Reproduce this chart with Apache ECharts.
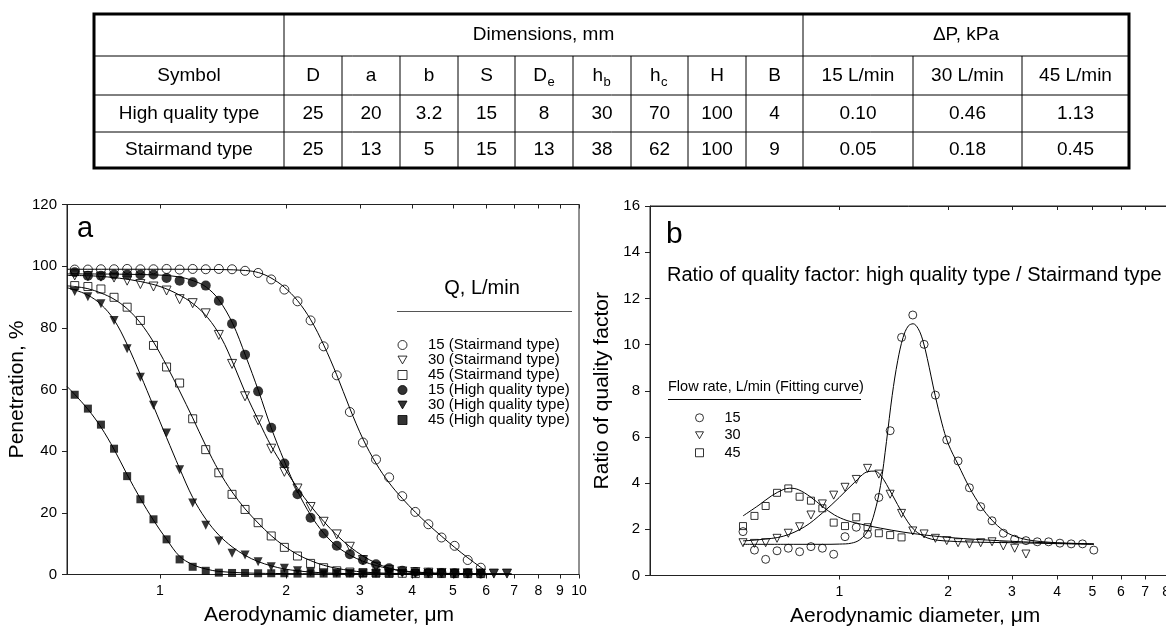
<!DOCTYPE html>
<html><head><meta charset="utf-8">
<script src="https://cdn.jsdelivr.net/npm/echarts@6/dist/echarts.min.js"></script>
<style>html,body{margin:0;padding:0;background:#fff}#c{width:1166px;height:628px}</style>
</head><body><div id="c"></div>
<script>
// ---------------- table text ----------------
const tableGroupHeader = ['Dimensions, mm', 'ΔP, kPa'];
const tableSymbols = ['Symbol','D','a','b','S','D|e','h|b','h|c','H','B','15 L/min','30 L/min','45 L/min'];
const rowHighQuality = ['High quality type','25','20','3.2','15','8','30','70','100','4','0.10','0.46','1.13'];
const rowStairmand = ['Stairmand type','25','13','5','15','13','38','62','100','9','0.05','0.18','0.45'];

// ---------------- chart a: penetration ----------------
const channelsA = [0.626,0.673,0.723,0.777,0.835,0.898,0.965,1.037,1.114,1.197,1.286,1.382,1.486,1.596,1.715,1.843,1.981,2.129,2.288,2.458,2.642,2.839,3.051,3.278,3.523,3.786,4.068,4.371,4.698,5.048,5.425,5.829,6.264,6.732];
const ptsA15S  = [98.9,98.9,99.0,99.0,99.1,99.0,99.0,99.1,98.9,99.1,99.0,99.1,99.0,98.5,97.8,95.7,92.4,88.6,82.4,74.0,64.6,52.7,42.8,37.3,31.5,25.4,20.3,16.3,12.0,9.3,4.7,2.2];
const ptsA30S  = [97.0,96.8,96.6,96.3,95.3,94.2,93.4,92.1,89.3,88.0,84.7,77.7,68.3,57.8,50.0,40.8,33.3,27.9,21.9,17.1,13.0,9.0,4.7,2.5,1.5,1.0,0.8,0.6,0.5,0.4,0.4,0.3,0.3,0.3];
const ptsA45S  = [93.7,93.4,92.6,89.9,86.7,82.4,74.3,67.3,62.1,50.5,40.5,33.0,26.0,21.1,16.8,12.5,8.8,6.0,3.6,2.2,1.2,0.8,0.6,0.5,0.4,0.4,0.3,0.3,0.3,0.3,0.3,0.3];
const ptsA15HQ = [98.0,96.9,96.9,97.3,97.3,97.3,97.3,96.2,95.3,94.8,93.7,88.8,81.3,71.3,59.4,47.6,36.0,26.0,18.4,13.3,9.3,6.6,4.7,3.3,2.0,1.2,0.8,0.6,0.5,0.4,0.4,0.3];
const ptsA30HQ = [91.8,90.1,87.8,82.4,73.2,64.0,54.9,45.9,34.0,23.2,16.0,10.9,6.9,6.3,4.1,2.5,2.0,1.2,0.8,0.6,0.5,0.4,0.4,0.3,0.3,0.3,0.3,0.3,0.3,0.3,0.3,0.3,0.3,0.3];
const ptsA45HQ = [58.3,53.8,48.6,40.8,31.9,24.4,17.9,11.4,4.9,2.5,1.2,0.6,0.5,0.5,0.4,0.4,0.4,0.3,0.3,0.3,0.3,0.3,0.3,0.3,0.3];

const fitA15S  = [[0.6,99.0],[1.0,99.0],[1.4,98.9],[1.6,98.6],[1.72,97.9],[1.84,96.2],[1.98,93.2],[2.13,88.8],[2.29,82.6],[2.46,74.4],[2.64,64.8],[2.84,53.8],[3.05,44.0],[3.28,36.0],[3.52,29.8],[3.79,24.6],[4.07,20.2],[4.37,16.2],[4.70,12.4],[5.05,8.8],[5.43,5.4],[5.83,2.3],[5.95,1.4]];
const fitA30S  = [[0.6,97.0],[0.7,96.8],[0.8,96.1],[0.9,95.0],[1.0,93.4],[1.1,91.0],[1.2,87.8],[1.3,83.3],[1.4,76.8],[1.5,68.0],[1.6,58.8],[1.72,49.8],[1.84,41.8],[1.98,34.6],[2.13,28.0],[2.29,22.2],[2.46,17.2],[2.64,12.8],[2.84,9.0],[3.05,6.0],[3.28,3.7],[3.52,2.1],[3.79,1.1],[4.07,0.6],[4.7,0.2],[6.9,0.1]];
const fitA45S  = [[0.6,93.6],[0.626,93.4],[0.673,92.7],[0.723,91.3],[0.777,89.3],[0.835,86.2],[0.898,81.6],[0.965,75.4],[1.037,67.8],[1.114,59.5],[1.197,50.8],[1.286,41.8],[1.382,33.6],[1.486,26.8],[1.596,21.3],[1.715,16.7],[1.843,12.6],[1.981,9.2],[2.129,6.5],[2.288,4.5],[2.458,3.0],[2.642,2.0],[2.839,1.3],[3.05,0.8],[3.5,0.4],[4.5,0.2],[6.9,0.1]];
const fitA15HQ = [[0.6,97.5],[0.8,97.4],[1.0,97.1],[1.1,96.6],[1.2,95.3],[1.29,93.2],[1.38,89.2],[1.49,81.5],[1.6,71.0],[1.72,59.4],[1.84,47.8],[1.98,36.8],[2.13,27.0],[2.29,19.2],[2.46,13.4],[2.64,9.2],[2.84,6.3],[3.05,4.3],[3.28,2.9],[3.52,1.9],[3.79,1.2],[4.07,0.8],[4.7,0.4],[6.9,0.1]];
const fitA30HQ = [[0.6,93.0],[0.626,92.3],[0.673,90.6],[0.723,87.6],[0.777,82.6],[0.835,74.6],[0.898,64.8],[0.965,54.6],[1.037,44.4],[1.114,34.4],[1.197,25.0],[1.286,18.0],[1.382,12.8],[1.486,9.0],[1.596,6.2],[1.715,4.2],[1.843,2.8],[1.981,1.8],[2.129,1.2],[2.288,0.8],[2.6,0.4],[3.5,0.2],[6.9,0.1]];
const fitA45HQ = [[0.6,61.0],[0.626,58.4],[0.673,53.6],[0.723,47.8],[0.777,40.6],[0.835,32.4],[0.898,24.6],[0.965,17.6],[1.037,11.4],[1.114,5.9],[1.197,3.2],[1.286,1.8],[1.382,1.0],[1.6,0.5],[2.0,0.3],[4.0,0.1],[6.9,0.1]];

const namesA = ['15 (Stairmand type)','30 (Stairmand type)','45 (Stairmand type)','15 (High quality type)','30 (High quality type)','45 (High quality type)'];
const ticksA = [1,2,3,4,5,6,7,8,9,10];

// ---------------- chart b: ratio of quality factor ----------------
const channelsB = [0.542,0.583,0.626,0.673,0.723,0.777,0.835,0.898,0.965,1.037,1.114,1.197,1.286,1.382,1.486,1.596,1.715,1.843,1.981,2.129,2.288,2.458,2.642,2.839,3.051,3.278,3.523,3.786,4.068,4.371,4.698,5.048];
const ptsB15 = [1.90,1.10,0.70,1.07,1.18,1.03,1.25,1.18,0.92,1.68,2.09,1.78,3.38,6.27,10.31,11.28,10.01,7.81,5.87,4.96,3.80,2.98,2.37,1.83,1.57,1.51,1.46,1.46,1.40,1.37,1.37,1.10];
const ptsB30 = [1.42,1.39,1.42,1.61,1.83,2.11,2.62,3.10,3.48,3.82,4.16,4.64,4.39,3.52,2.69,1.93,1.80,1.61,1.51,1.42,1.36,1.42,1.46,1.28,1.18,0.93];
const ptsB45 = [2.14,2.58,3.01,3.58,3.77,3.41,3.24,2.91,2.29,2.14,2.52,2.09,1.83,1.75,1.65];

const fitB15 = [[0.542,1.35],[0.7,1.35],[0.9,1.35],[1.0,1.36],[1.08,1.40],[1.14,1.55],[1.2,1.95],[1.25,2.7],[1.3,3.9],[1.35,5.8],[1.4,7.8],[1.45,9.3],[1.5,10.3],[1.55,10.8],[1.6,10.9],[1.65,10.7],[1.7,10.2],[1.75,9.4],[1.84,7.8],[1.92,6.6],[2.0,5.7],[2.13,4.8],[2.29,3.8],[2.46,3.0],[2.64,2.4],[2.84,1.95],[3.05,1.7],[3.3,1.55],[3.6,1.47],[4.0,1.42],[4.5,1.39],[5.05,1.37]];
const fitB30 = [[0.542,1.50],[0.6,1.55],[0.7,1.70],[0.8,2.10],[0.9,2.72],[1.0,3.38],[1.1,4.02],[1.2,4.50],[1.25,4.52],[1.3,4.35],[1.4,3.50],[1.5,2.65],[1.6,2.02],[1.7,1.72],[1.8,1.57],[1.95,1.50],[2.3,1.45],[3.0,1.42],[4.0,1.38],[5.05,1.35]];
const fitB45 = [[0.542,2.58],[0.6,3.05],[0.65,3.45],[0.7,3.72],[0.73,3.78],[0.77,3.72],[0.83,3.42],[0.9,2.98],[0.97,2.62],[1.05,2.38],[1.15,2.22],[1.3,2.05],[1.5,1.88],[1.8,1.72],[2.2,1.60],[3.0,1.48],[4.0,1.40],[5.05,1.36]];

const namesB = ['15','30','45'];
const ticksB = [1,2,3,4,5,6,7,8,9,10];

// ---------------- build ----------------
const FONT = 'Liberation Sans, Arial, Helvetica, sans-serif';
const lg = Math.log10;
const toPts = (ch, vals) => vals.map((v, i) => [lg(ch[i]), v]);
const toFit = pairs => pairs.map(p => [lg(p[0]), p[1]]);
const DOWN_TRI = 'path://M0,0L10,0L5,8.66Z';

const openStyle = {color: 'rgba(0,0,0,0)', borderColor: '#000', borderWidth: 1};
const fillStyle = {color: '#000', borderColor: '#000', borderWidth: 0};

function scatter(name, xi, yi, symbol, rot, style, size, data) {
  return {type: 'scatter', name, xAxisIndex: xi, yAxisIndex: yi, symbol, symbolRotate: rot,
    symbolSize: size, itemStyle: style, data, z: 3, silent: true, animation: false};
}
function fitLine(xi, yi, data) {
  return {type: 'line', xAxisIndex: xi, yAxisIndex: yi, data, showSymbol: false, symbol: 'none',
    smooth: 0.35, lineStyle: {color: '#000', width: 1}, z: 2, silent: true, animation: false};
}

const series = [
  fitLine(0,0,toFit(fitA15S)), fitLine(0,0,toFit(fitA30S)), fitLine(0,0,toFit(fitA45S)),
  fitLine(0,0,toFit(fitA15HQ)), fitLine(0,0,toFit(fitA30HQ)), fitLine(0,0,toFit(fitA45HQ)),
  scatter(namesA[0],0,0,'circle',0,openStyle,9,toPts(channelsA,ptsA15S)),
  scatter(namesA[1],0,0,'triangle',180,openStyle,9,toPts(channelsA,ptsA30S)),
  scatter(namesA[2],0,0,'rect',0,openStyle,8,toPts(channelsA,ptsA45S)),
  scatter(namesA[3],0,0,'circle',0,fillStyle,10,toPts(channelsA,ptsA15HQ)),
  scatter(namesA[4],0,0,'triangle',180,fillStyle,9,toPts(channelsA,ptsA30HQ)),
  scatter(namesA[5],0,0,'rect',0,fillStyle,8,toPts(channelsA,ptsA45HQ)),
  fitLine(2,1,toFit(fitB15)), fitLine(2,1,toFit(fitB30)), fitLine(2,1,toFit(fitB45)),
  scatter(namesB[0],2,1,'circle',0,openStyle,8,toPts(channelsB,ptsB15)),
  scatter(namesB[1],2,1,'triangle',180,openStyle,8,toPts(channelsB,ptsB30)),
  scatter(namesB[2],2,1,'rect',0,openStyle,7,toPts(channelsB,ptsB45))
];

const AX = '#222';
function bottomX(gi, min, ticks, name, pad) {
  const tv = ticks.map(lg);
  return {type: 'value', gridIndex: gi, position: 'bottom', min: lg(min), max: 1,
    axisLine: {show: true, onZero: false, lineStyle: {color: AX, width: 1}},
    axisTick: {show: true, inside: false, length: 4, customValues: tv, lineStyle: {color: AX}},
    axisLabel: {show: true, customValues: tv, margin: 10, fontSize: 14, color: '#000', fontFamily: FONT,
      hideOverlap: false, formatter: v => String(Math.round(Math.pow(10, v)))},
    splitLine: {show: false},
    name, nameLocation: 'middle', nameGap: 30,
    nameTextStyle: {fontSize: 21, color: '#000', fontFamily: FONT, padding: pad}};
}
function topX(gi, min, ticks) {
  const tv = ticks.map(lg);
  return {type: 'value', gridIndex: gi, position: 'top', min: lg(min), max: 1,
    axisLine: {show: true, onZero: false, lineStyle: {color: AX, width: 1}},
    axisTick: {show: true, inside: true, length: 4, customValues: tv, lineStyle: {color: AX}},
    axisLabel: {show: false}, splitLine: {show: false}};
}
function leftY(gi, max, interval, name, gap) {
  return {type: 'value', gridIndex: gi, min: 0, max, interval,
    axisLine: {show: true, onZero: false, lineStyle: {color: AX, width: 1}},
    axisTick: {show: true, inside: false, length: 5, lineStyle: {color: AX}},
    axisLabel: {show: true, margin: 10, fontSize: 15, color: '#000', fontFamily: FONT},
    splitLine: {show: false},
    name, nameLocation: 'middle', nameGap: gap,
    nameTextStyle: {fontSize: 21, color: '#000', fontFamily: FONT}};
}

// table graphics (layout only)
const colX = [94,284,342,400,458,515,573,631,688,746,803,913,1022,1129];
const rowY = [14,56,95,132,168];
const TF = 19;
const graphics = [];
graphics.push({type: 'rect', shape: {x: colX[0], y: rowY[0], width: colX[13]-colX[0], height: rowY[4]-rowY[0]},
  style: {fill: 'none', stroke: '#000', lineWidth: 3}, silent: true});
for (let r = 1; r <= 3; r++) graphics.push({type: 'line', shape: {x1: colX[0], y1: rowY[r], x2: colX[13], y2: rowY[r]}, style: {stroke: '#000', lineWidth: 1}, silent: true});
for (let c = 1; c <= 12; c++) {
  const full = (c === 1 || c === 10);
  graphics.push({type: 'line', shape: {x1: colX[c], y1: full ? rowY[0] : rowY[1], x2: colX[c], y2: rowY[4]}, style: {stroke: '#000', lineWidth: 1}, silent: true});
}
function cellText(txt, cx, cy) {
  if (txt.indexOf('|') >= 0) {
    const parts = txt.split('|');
    const off = parts[0] === 'D' ? 3 : 1;
    graphics.push({type: 'text', style: {text: parts[0], x: cx + off, y: cy, align: 'right', verticalAlign: 'middle', fontSize: TF, fontFamily: FONT, fill: '#000'}, silent: true});
    graphics.push({type: 'text', style: {text: parts[1], x: cx + off + 0.5, y: cy + 7, align: 'left', verticalAlign: 'middle', fontSize: 13, fontFamily: FONT, fill: '#000'}, silent: true});
  } else {
    graphics.push({type: 'text', style: {text: txt, x: cx, y: cy, align: 'center', verticalAlign: 'middle', fontSize: TF, fontFamily: FONT, fill: '#000'}, silent: true});
  }
}
const mid = (a, b) => (a + b) / 2;
cellText(tableGroupHeader[0], mid(colX[1], colX[10]), mid(rowY[0], rowY[1]));
cellText(tableGroupHeader[1], mid(colX[10], colX[13]), mid(rowY[0], rowY[1]));
[tableSymbols, rowHighQuality, rowStairmand].forEach((row, ri) => {
  row.forEach((t, ci) => cellText(t, mid(colX[ci], colX[ci+1]), mid(rowY[ri+1], rowY[ri+2])));
});

// annotations
graphics.push({type: 'text', style: {text: 'a', x: 77, y: 229, align: 'left', verticalAlign: 'middle', fontSize: 29, fontFamily: FONT, fill: '#000'}, silent: true});
graphics.push({type: 'text', style: {text: 'b', x: 666, y: 235, align: 'left', verticalAlign: 'middle', fontSize: 30, fontFamily: FONT, fill: '#000'}, silent: true});
graphics.push({type: 'text', style: {text: 'Ratio of quality factor: high quality type / Stairmand type', x: 667, y: 275, align: 'left', verticalAlign: 'middle', fontSize: 20, fontFamily: FONT, fill: '#000'}, silent: true});
graphics.push({type: 'text', style: {text: 'Q, L/min', x: 482, y: 288, align: 'center', verticalAlign: 'middle', fontSize: 20, fontFamily: FONT, fill: '#000'}, silent: true});
graphics.push({type: 'line', shape: {x1: 397, y1: 311.5, x2: 572, y2: 311.5}, style: {stroke: '#555', lineWidth: 1}, silent: true});
graphics.push({type: 'text', style: {text: 'Flow rate, L/min (Fitting curve)', x: 668, y: 387, align: 'left', verticalAlign: 'middle', fontSize: 14.5, fontFamily: FONT, fill: '#000'}, silent: true});
graphics.push({type: 'line', shape: {x1: 668, y1: 399.5, x2: 861, y2: 399.5}, style: {stroke: '#000', lineWidth: 1}, silent: true});

const legendItems = (names, triIdx) => names.map((n, i) => triIdx.indexOf(i) >= 0 ? {name: n, icon: DOWN_TRI} : {name: n});

const option = {
  animation: false,
  backgroundColor: '#fff',
  textStyle: {fontFamily: FONT},
  grid: [
    {left: 67, top: 204.5, width: 512, height: 370, show: true, borderColor: AX, borderWidth: 1, backgroundColor: 'transparent', containLabel: false, outerBoundsMode: 'none'},
    {left: 650, top: 206, width: 551.3, height: 369.5, show: true, borderColor: AX, borderWidth: 1, backgroundColor: 'transparent', containLabel: false, outerBoundsMode: 'none'}
  ],
  xAxis: [
    bottomX(0, 0.6, ticksA, 'Aerodynamic diameter, μm', [0, 0, 0, 12]),
    topX(0, 0.6, ticksA),
    bottomX(1, 0.3, ticksB, 'Aerodynamic diameter, μm', [0, 21, 0, 0]),
    topX(1, 0.3, ticksB)
  ],
  yAxis: [
    leftY(0, 120, 20, 'Penetration, %', 34),
    leftY(1, 16, 2, 'Ratio of quality factor', 37)
  ],
  legend: [
    {orient: 'vertical', left: 397.5, top: 337.5, padding: 0, itemWidth: 9, itemHeight: 9, itemGap: 0,
      selectedMode: false, itemStyle: {borderWidth: 1},
      textStyle: {fontSize: 15, lineHeight: 15, color: '#000', fontFamily: FONT, padding: [0, 0, 0, 16]},
      data: legendItems(namesA, [1, 4])},
    {orient: 'vertical', left: 695, top: 409, padding: 0, itemWidth: 8, itemHeight: 8, itemGap: 0,
      selectedMode: false, itemStyle: {borderWidth: 1},
      textStyle: {fontSize: 14.5, lineHeight: 17.5, color: '#000', fontFamily: FONT, padding: [0, 0, 0, 16]},
      data: legendItems(namesB, [1])}
  ],
  graphic: graphics,
  series
};
const chart = echarts.init(document.getElementById('c'), null, {renderer: 'canvas'});
chart.setOption(option);
</script></body></html>
